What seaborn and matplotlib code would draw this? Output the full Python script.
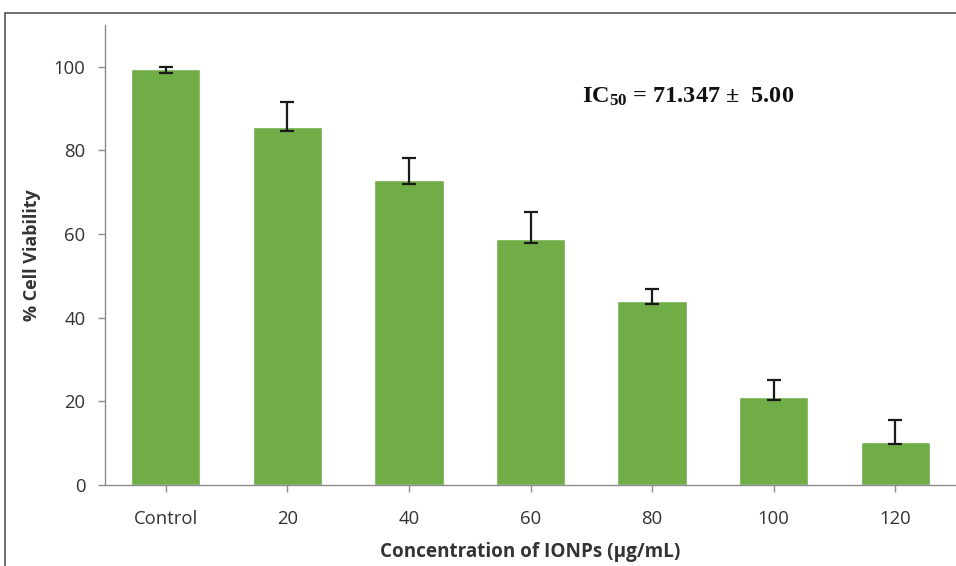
import matplotlib
matplotlib.use("Agg")
import matplotlib.pyplot as plt
import seaborn as sns
import pandas as pd
from matplotlib.patches import Rectangle

categories = ["Control", "20", "40", "60", "80", "100", "120"]
viability = [99.4, 85.5, 73.0, 58.9, 44.1, 21.1, 10.2]
err_lower = [0.9, 0.8, 1.0, 1.0, 0.9, 0.8, 0.4]
err_upper = [0.5, 6.2, 5.1, 6.4, 2.7, 3.9, 5.4]

sns.set_theme(style="white")
plt.rcParams["font.family"] = ["Open Sans", "DejaVu Sans"]
plt.rcParams["mathtext.default"] = "regular"

df = pd.DataFrame({"conc": categories, "viab": viability})

fig = plt.figure(figsize=(9.56, 5.66), dpi=100)
ax = fig.add_axes([105/956, 1-485/566, 1-105/956, (485-25)/566])

sns.barplot(data=df, x="conc", y="viab", color="#70AD47", saturation=1,
            width=0.57, ax=ax, errorbar=None)
ax.errorbar(range(len(categories)), viability, yerr=[err_lower, err_upper],
            fmt="none", ecolor="#1a1a1a", elinewidth=1.6, capsize=5, capthick=1.6)

ax.set_xlim(-0.5, 6.5)
ax.set_ylim(0, 110)
ax.set_yticks([0, 20, 40, 60, 80, 100])
for s in ["top", "right"]:
    ax.spines[s].set_visible(False)
for s in ["left", "bottom"]:
    ax.spines[s].set_color("#8c8c8c")
    ax.spines[s].set_linewidth(1.0)
ax.tick_params(axis="both", which="both", direction="out", length=5, width=1,
               color="#8c8c8c", labelsize=13.3, labelcolor="#333333", left=True, bottom=True)
ax.tick_params(axis="x", pad=13)
ax.tick_params(axis="y", pad=9)
ax.set_xlabel("Concentration of IONPs (µg/mL)", fontsize=13.6, fontweight="bold",
              color="#333333", labelpad=10)
ax.set_ylabel("% Cell Viability", fontsize=13, fontweight="bold", color="#333333", labelpad=9)

ax.text(4.3, 92.8, r"IC$_{50}$ = 71.347 ±  5.00", ha="center", va="center",
        fontsize=17.5, fontweight="bold", family="Liberation Serif", color="#111111")

fig.patches.append(Rectangle((5/956, -0.1), 1.2, 1.1 - 13/566, transform=fig.transFigure,
                             fill=False, edgecolor="#555555", linewidth=1.2))

fig.savefig("out.png", dpi=100)
